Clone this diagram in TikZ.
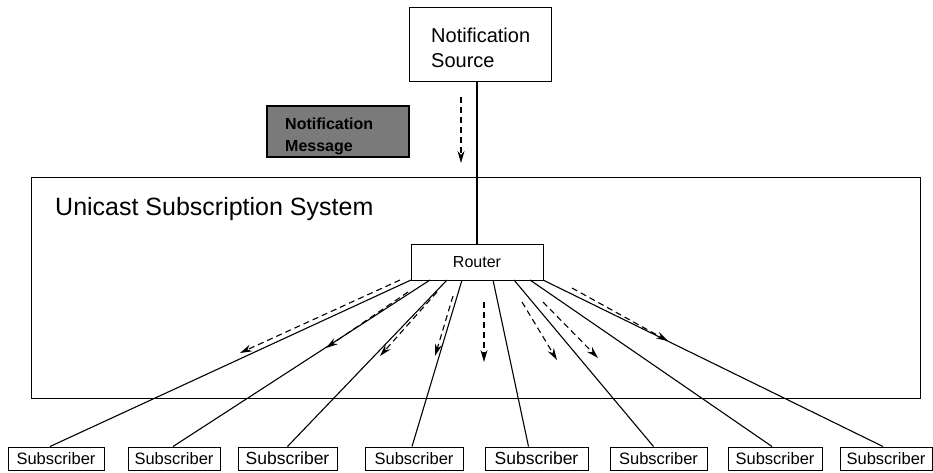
\documentclass[tikz,border=0pt]{standalone}
\usepackage{fontspec}
\setmainfont{Liberation Sans}
\usetikzlibrary{arrows.meta,calc}
\begin{document}
\begin{tikzpicture}[x=1pt,y=-1pt,
  box/.style={draw,line width=1pt,inner sep=0pt},
  sub/.style={draw,line width=1pt,minimum height=23pt,inner sep=0pt,font=\fontsize{16.5}{18}\selectfont},
  subbig/.style={sub,font=\fontsize{17.5}{19}\selectfont},
  link/.style={line width=1.1pt},
  flow/.style={line width=1.1pt,dash pattern=on 6pt off 4pt,-{Stealth[length=12pt,width=7pt]}},
]
\useasboundingbox (0,0) rectangle (933,472);
% system box
\node[box,minimum width=889pt,minimum height=221pt] (sys) at (475.5,287.5) {};
\node[anchor=base west,inner sep=0pt,font=\fontsize{25}{30}\selectfont] (syslbl) at (55,215) {Unicast Subscription System};
% source
\node[box,minimum width=142pt,minimum height=74pt] (src) at (480,44) {};
\node[anchor=base west,inner sep=0pt,font=\fontsize{20}{25}\selectfont] (srcl1) at (431,42) {Notification};
\node[anchor=base west,inner sep=0pt,font=\fontsize{20}{25}\selectfont] (srcl2) at (431,67) {Source};
% message
\node[draw,line width=1.2pt,fill=black!52,minimum width=142pt,minimum height=51pt,inner sep=0pt] (msg) at (338,131.5) {};
\node[anchor=base west,inner sep=0pt,font=\bfseries\fontsize{16}{18}\selectfont] (msgl1) at (285,129) {Notification};
\node[anchor=base west,inner sep=0pt,font=\bfseries\fontsize{16}{18}\selectfont] (msgl2) at (285,151) {Message};
% router
\node[box,minimum width=132pt,minimum height=36pt,font=\fontsize{16}{18}\selectfont] (router) at (477,262) {Router};
% subscribers
\node[sub,minimum width=96pt] (s1) at (56,458.5) {Subscriber};
\node[sub,minimum width=92pt] (s2) at (174,458.5) {Subscriber};
\node[subbig,minimum width=99pt] (s3) at (287.5,458.5) {Subscriber};
\node[sub,minimum width=98pt] (s4) at (414,458.5) {Subscriber};
\node[subbig,minimum width=103pt] (s5) at (536.5,458.5) {Subscriber};
\node[sub,minimum width=97pt] (s6) at (658.5,458.5) {Subscriber};
\node[sub,minimum width=94pt] (s7) at (775,458.5) {Subscriber};
\node[sub,minimum width=92pt] (s8) at (886,458.5) {Subscriber};
% source link
\draw[link] (router.north |- src.south) -- (router.north);
\coordinate (m1) at (461,97);
\coordinate (m2) at (461,163);
\draw[flow] (m1) -- (m2);
% fan lines
\coordinate (r1) at (411,280);
\coordinate (r2) at (430,280);
\coordinate (r3) at (447,280);
\coordinate (r4) at (462,280);
\coordinate (r5) at (493,280);
\coordinate (r6) at (514,280);
\coordinate (r7) at (530,280);
\coordinate (r8) at (543,280);
\draw[link] (r1) -- ([xshift=-6pt]s1.north);
\draw[link] (r2) -- ([xshift=-1pt]s2.north);
\draw[link] (r3) -- (s3.north);
\draw[link] (r4) -- ([xshift=-2pt]s4.north);
\draw[link] (r5) -- ([xshift=-8pt]s5.north);
\draw[link] (r6) -- ([xshift=-5pt]s6.north);
\draw[link] (r7) -- ([xshift=-3pt]s7.north);
\draw[link] (r8) -- ([xshift=-3pt]s8.north);
% dashed flows
\coordinate (a1s) at (400,280); \coordinate (a1e) at (240,353);
\coordinate (a2s) at (408,292); \coordinate (a2e) at (326,348);
\coordinate (a3s) at (437,292); \coordinate (a3e) at (380,356);
\coordinate (a4s) at (453,296); \coordinate (a4e) at (435,356);
\coordinate (a5s) at (484,302); \coordinate (a5e) at (484,362);
\coordinate (a6s) at (522,302); \coordinate (a6e) at (557,360);
\coordinate (a7s) at (543,302); \coordinate (a7e) at (598,358);
\coordinate (a8s) at (572,288); \coordinate (a8e) at (668,341);
\foreach \i in {1,...,8} {\draw[flow] (a\i s) -- (a\i e);}
\end{tikzpicture}
\end{document}
